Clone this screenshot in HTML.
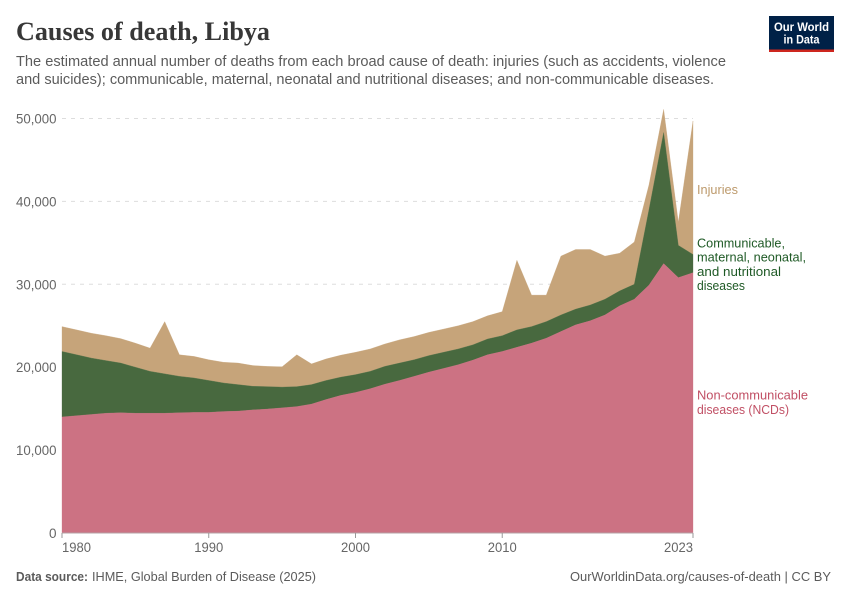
<!DOCTYPE html>
<html lang="en">
<head>
<meta charset="utf-8">
<title>Causes of death, Libya</title>
<style>
html,body{margin:0;padding:0;background:#fff;}
svg{display:block;font-family:"Liberation Sans",sans-serif;}
</style>
</head>
<body>
<svg id="chart" xmlns="http://www.w3.org/2000/svg" width="850" height="600" viewBox="0 0 850 600">
  <rect width="850" height="600" fill="#fff"/>
  <text x="16" y="40" font-family="'Liberation Serif',serif" font-weight="bold" font-size="26" fill="#373737" textLength="254" lengthAdjust="spacingAndGlyphs">Causes of death, Libya</text>
  <text x="16" y="66" font-size="14.5" fill="#5b5b5b" textLength="710" lengthAdjust="spacingAndGlyphs">The estimated annual number of deaths from each broad cause of death: injuries (such as accidents, violence</text>
  <text x="16" y="84" font-size="14.5" fill="#5b5b5b" textLength="698" lengthAdjust="spacingAndGlyphs">and suicides); communicable, maternal, neonatal and nutritional diseases; and non-communicable diseases.</text>

  <g>
    <rect x="769" y="16" width="65" height="36" fill="#002147"/>
    <rect x="769" y="49.5" width="65" height="2.5" fill="#ce261e"/>
    <text x="801.5" y="31" font-size="12" font-weight="bold" fill="#fff" text-anchor="middle" textLength="55" lengthAdjust="spacingAndGlyphs">Our World</text>
    <text x="801.5" y="43.5" font-size="12" font-weight="bold" fill="#fff" text-anchor="middle" textLength="36" lengthAdjust="spacingAndGlyphs">in Data</text>
  </g>

  <g id="grid"></g>
  <g id="areas"></g>
  <g id="axes"></g>

  <text x="697" y="194" font-size="13" fill="#bd9a6c" textLength="41" lengthAdjust="spacingAndGlyphs">Injuries</text>
  <g font-size="13" fill="#1f5a26">
    <text x="697" y="247.5" textLength="88" lengthAdjust="spacingAndGlyphs">Communicable,</text>
    <text x="697" y="261.5" textLength="109" lengthAdjust="spacingAndGlyphs">maternal, neonatal,</text>
    <text x="697" y="276" textLength="84" lengthAdjust="spacingAndGlyphs">and nutritional</text>
    <text x="697" y="290" textLength="48" lengthAdjust="spacingAndGlyphs">diseases</text>
  </g>
  <g font-size="13" fill="#c15065">
    <text x="697" y="399.5" textLength="111" lengthAdjust="spacingAndGlyphs">Non-communicable</text>
    <text x="697" y="414" textLength="92" lengthAdjust="spacingAndGlyphs">diseases (NCDs)</text>
  </g>

  <text x="16" y="581" font-size="13" font-weight="bold" fill="#5b5b5b" textLength="72" lengthAdjust="spacingAndGlyphs">Data source:</text>
  <text x="92" y="581" font-size="13" fill="#5b5b5b" textLength="224" lengthAdjust="spacingAndGlyphs">IHME, Global Burden of Disease (2025)</text>
  <text x="570" y="581" font-size="13" fill="#5b5b5b" textLength="261" lengthAdjust="spacingAndGlyphs">OurWorldinData.org/causes-of-death | CC BY</text>
</svg>
<script>
const years = [1980,1981,1982,1983,1984,1985,1986,1987,1988,1989,1990,1991,1992,1993,1994,1995,1996,1997,1998,1999,2000,2001,2002,2003,2004,2005,2006,2007,2008,2009,2010,2011,2012,2013,2014,2015,2016,2017,2018,2019,2020,2021,2022,2023];
const ncdDeaths = [14000,14150,14300,14450,14500,14450,14450,14450,14500,14550,14550,14650,14700,14850,14950,15100,15250,15550,16100,16600,16950,17400,17950,18400,18900,19400,19850,20300,20850,21500,21900,22400,22900,23500,24300,25100,25600,26300,27400,28200,29900,32500,30800,31400];
const communicableDeaths = [7900,7350,6800,6350,6000,5550,5050,4750,4400,4150,3850,3450,3200,2850,2700,2500,2400,2350,2300,2200,2150,2100,2150,2100,2000,2000,1950,1900,1850,1900,1900,2100,2000,2000,2000,1900,1900,1900,1800,1800,9100,15800,3900,2200];
const injuryDeaths = [3000,3000,3000,3000,2950,2900,2800,6300,2600,2600,2500,2500,2600,2500,2450,2450,3850,2500,2600,2650,2700,2700,2700,2800,2800,2800,2800,2800,2800,2800,2900,8400,3800,3200,7100,7200,6700,5200,4550,5100,3000,2800,2800,16100];
const yTickValues = [0,10000,20000,30000,40000,50000];
const xTickYears = [1980,1990,2000,2010,2023];

const NS = 'http://www.w3.org/2000/svg';
const xLeft = 62, xRight = 693, yBase = 533, yTop = 118.5, yTopValue = 50000;
const firstYear = years[0], lastYear = years[years.length - 1];
function xScale(year){ return xLeft + (year - firstYear) / (lastYear - firstYear) * (xRight - xLeft); }
function yScale(value){ return yBase - value / yTopValue * (yBase - yTop); }
function make(tag, attrs){
  const el = document.createElementNS(NS, tag);
  for (const k in attrs) el.setAttribute(k, attrs[k]);
  return el;
}

const grid = document.getElementById('grid');
const axes = document.getElementById('axes');
const areas = document.getElementById('areas');

yTickValues.forEach(function(v){
  const y = yScale(v);
  if (v > 0) {
    const line = make('line', {x1:xLeft, x2:xRight, y1:y, y2:y, stroke:'#dddddd', 'stroke-dasharray':'4 5'});
    
    
    grid.appendChild(line);
  }
  const label = make('text', {x:56.5, y:y + 5, 'font-size':13.5, fill:'#666', 'text-anchor':'end'});
  
  
  label.textContent = v.toLocaleString('en-US');
  if (v > 0) {
    label.setAttribute('textLength', '40.5');
    label.setAttribute('lengthAdjust', 'spacingAndGlyphs');
  }
  axes.appendChild(label);
});

const stackLayers = [
  {name:'area-injuries', values:injuryDeaths, fill:'#c6a47a'},
  {name:'area-communicable', values:communicableDeaths, fill:'#48693f'},
  {name:'area-ncds', values:ncdDeaths, fill:'#cc7283'}
];
const drawOrder = [stackLayers[2], stackLayers[1], stackLayers[0]];
let lower = years.map(function(){ return 0; });
const paths = [];
drawOrder.forEach(function(layer){
  const upper = lower.map(function(b, i){ return b + layer.values[i]; });
  const top = years.map(function(yr, i){ return xScale(yr).toFixed(2) + ',' + yScale(upper[i]).toFixed(2); });
  const bottom = years.map(function(yr, i){ return xScale(yr).toFixed(2) + ',' + yScale(lower[i]).toFixed(2); }).reverse();
  const area = make('polygon', {points: top.concat(bottom).join(' '), fill: layer.fill, stroke: layer.fill, 'stroke-width': 0.3});
  
  
  paths.push(area);
  lower = upper;
});
paths.reverse().forEach(function(p){ areas.appendChild(p); });

const baseline = make('line', {x1:xLeft, x2:xRight, y1:yBase, y2:yBase, stroke:'#b5a0a4', 'stroke-width':1});


axes.appendChild(baseline);

xTickYears.forEach(function(yr, i){
  const x = xScale(yr);
  const tick = make('line', {x1:x, x2:x, y1:yBase, y2:yBase + 5, stroke:'#999', 'stroke-width':1});
  
  
  axes.appendChild(tick);
  const anchor = i === 0 ? 'start' : (i === xTickYears.length - 1 ? 'end' : 'middle');
  const label = make('text', {x:x, y:552, 'font-size':13.5, fill:'#666', 'text-anchor':anchor, textLength:'29', lengthAdjust:'spacingAndGlyphs'});
  
  
  label.textContent = String(yr);
  axes.appendChild(label);
});
</script>
</body>
</html>
